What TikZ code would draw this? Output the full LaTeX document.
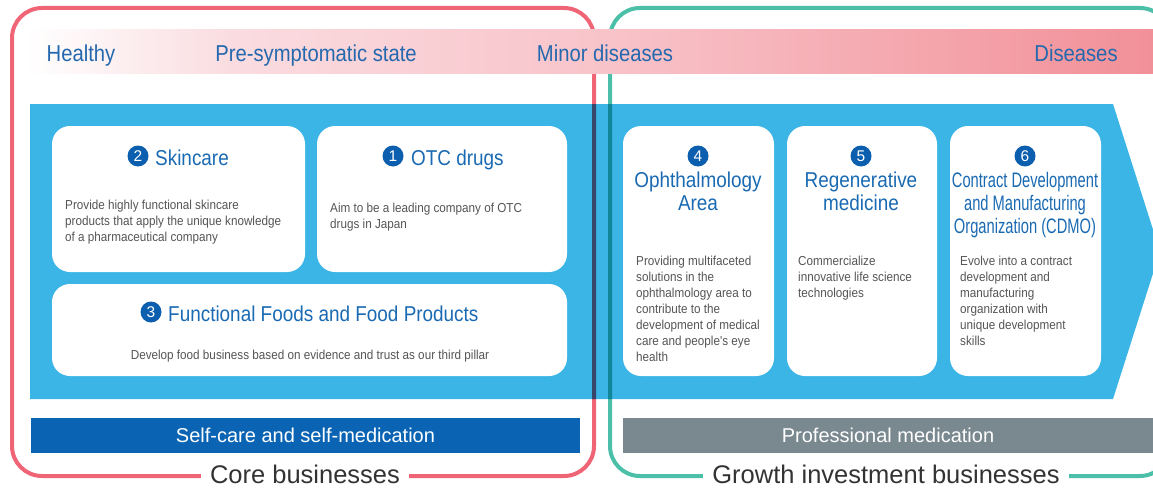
\documentclass[tikz,border=0pt]{standalone}
\usepackage{fontspec}
\setmainfont{Liberation Sans}
\newfontfamily\narrowfont[FakeStretch=0.88]{Liberation Sans}
\newfontfamily\tightfont[FakeStretch=0.7]{Liberation Sans}
\newfontfamily\descfont[FakeStretch=0.9]{Liberation Sans}
\usetikzlibrary{positioning}

\definecolor{skyblue}{HTML}{3BB4E6}
\definecolor{corered}{HTML}{EF6576}
\definecolor{growgreen}{HTML}{4CBFA9}
\definecolor{stageblue}{HTML}{2468AE}
\definecolor{titleblue}{HTML}{1A6AB3}
\definecolor{badgeblue}{HTML}{0B5FAE}
\definecolor{descgray}{HTML}{555555}
\definecolor{selfblue}{HTML}{0A64B3}
\definecolor{progray}{HTML}{7A888F}
\definecolor{labelgray}{HTML}{333333}
\definecolor{pinkA}{HTML}{FADCE0}
\definecolor{pinkB}{HTML}{F8C4CA}
\definecolor{pinkC}{HTML}{F29098}

\begin{document}
\begin{tikzpicture}[x=1pt,y=-1pt,
    card/.style={fill=white,rounded corners=18pt,inner sep=0pt},
    badge/.style={circle,fill=badgeblue,text=white,inner sep=0pt,minimum size=21pt,
      font=\fontsize{15.5}{15.5}\selectfont},
    stage/.style={text=stageblue,anchor=base,font=\narrowfont\fontsize{23}{26}\selectfont},
    cardtitle/.style={text=titleblue,align=center,inner sep=0pt,
      font=\narrowfont\fontsize{21.5}{23}\selectfont},
    desc/.style={text=descgray,anchor=north west,align=left,inner sep=0pt,
      font=\descfont\fontsize{13}{16}\selectfont},
    bar/.style={text=white,minimum height=35pt,inner sep=0pt,
      font=\fontsize{20}{22}\selectfont},
    framelabel/.style={fill=white,text=labelgray,inner xsep=9pt,inner ysep=2pt,
      font=\fontsize{25.5}{28}\selectfont},
    frame/.style={line width=4pt,rounded corners=30pt}]

  \useasboundingbox (0,0) rectangle (1153,487);

  % big arrow behind the cards
  \fill[skyblue] (30,104) -- (1113,104) -- (1160,251.5) -- (1113,399) -- (30,399) -- cycle;

  % the two business frames
  \begin{scope}[blend mode=multiply]
    \draw[frame,corered] (12,8) rectangle (594,476);
    \draw[frame,growgreen] (610,8) rectangle (1170,476);
  \end{scope}

  % stages band
  \shade[left color=white,right color=pinkA] (27,30) rectangle (231,73);
  \shade[left color=pinkA,right color=pinkB] (230,30) rectangle (601,73);
  \shade[left color=pinkB,right color=pinkC] (600,30) rectangle (1153,73);
  \node[stage] (healthy) at (81,62) {Healthy};
  \node[stage] (presym) at (316,62) {Pre-symptomatic state};
  \node[stage] (minor) at (605,62) {Minor diseases};
  \node[stage] (disease) at (1076,62) {Diseases};

  % cards
  \node[card,minimum width=253pt,minimum height=146pt] (skin) at (178.5,199) {};
  \node[card,minimum width=250pt,minimum height=146pt] (otc) at (442,199) {};
  \node[card,minimum width=515pt,minimum height=92pt] (food) at (309.5,330) {};
  \node[card,minimum width=151pt,minimum height=250pt] (oph) at (698.5,251) {};
  \node[card,minimum width=150pt,minimum height=250pt] (regen) at (862,251) {};
  \node[card,minimum width=151pt,minimum height=250pt] (cdmo) at (1025.5,251) {};

  \node[badge] (skinN) at (138,156) {2};
  \node[cardtitle,anchor=base west] (skinT) at (155,165) {Skincare};
  \node[desc] (skinD) at (65,199.5) {Provide highly functional skincare\\products that apply the unique knowledge\\of a pharmaceutical company};

  \node[badge] (otcN) at (393,156) {1};
  \node[cardtitle,anchor=base west] (otcT) at (411,165) {OTC drugs};
  \node[desc] (otcD) at (330,202.5) {Aim to be a leading company of OTC\\drugs in Japan};

  \node[badge] (foodN) at (151,312) {3};
  \node[cardtitle,anchor=base west] (foodT) at (168,321) {Functional Foods and Food Products};
  \node[desc,anchor=north,align=center] (foodD) at (310,349.5) {Develop food business based on evidence and trust as our third pillar};

  \node[badge] (ophN) at (698,156) {4};
  \node[cardtitle,anchor=north] (ophT) at (698,172) {Ophthalmology\\Area};
  \node[desc] (ophD) at (636,255.5) {Providing multifaceted\\solutions in the\\ophthalmology area to\\contribute to the\\development of medical\\care and people's eye\\health};

  \node[badge] (regenN) at (861,156) {5};
  \node[cardtitle,anchor=north] (regenT) at (861,172) {Regenerative\\medicine};
  \node[desc] (regenD) at (798,255.5) {Commercialize\\innovative life science\\technologies};

  \node[badge] (cdmoN) at (1025,156) {6};
  \node[cardtitle,anchor=north,font=\tightfont\fontsize{21}{23}\selectfont] (cdmoT) at (1025,172) {Contract Development\\and Manufacturing\\Organization (CDMO)};
  \node[desc] (cdmoD) at (960,255.5) {Evolve into a contract\\development and\\manufacturing\\organization with\\unique development\\skills};

  % medication bars
  \node[bar,fill=selfblue,minimum width=549pt] (self) at (305.5,435.5) {Self-care and self-medication};
  \node[bar,fill=progray,minimum width=530pt] (pro) at (888,435.5) {Professional medication};

  \node[framelabel] (coreL) at (305,474) {Core businesses};
  \node[framelabel] (growL) at (886,474) {Growth investment businesses};
\end{tikzpicture}
\end{document}
